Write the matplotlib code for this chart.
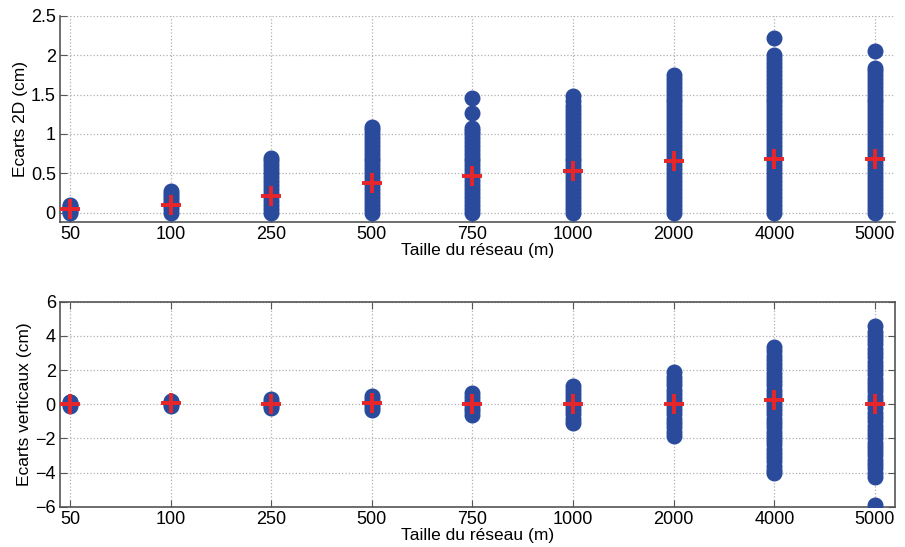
import matplotlib
matplotlib.use('Agg')
from matplotlib import pyplot as plt

plt.rcParams['font.family'] = ['Liberation Sans', 'DejaVu Sans']

sizes = ['50', '100', '250', '500', '750', '1000', '2000', '4000', '5000']

ecarts_2d = [
    [0.0, 0.02, 0.04, 0.06, 0.08, 0.1],
    [0.0, 0.04, 0.08, 0.12, 0.16, 0.2, 0.24, 0.28],
    [0.0, 0.05, 0.1, 0.15, 0.2, 0.25, 0.3, 0.35, 0.4, 0.45, 0.5, 0.55, 0.6, 0.65,
     0.7],
    [0.0, 0.05, 0.1, 0.15, 0.2, 0.25, 0.3, 0.35, 0.4, 0.45, 0.5, 0.55, 0.6, 0.65,
     0.7, 0.75, 0.8, 0.85, 0.9, 0.95, 1.0, 1.05, 1.09],
    [0.0, 0.05, 0.1, 0.15, 0.2, 0.25, 0.3, 0.35, 0.4, 0.45, 0.5, 0.55, 0.6, 0.65,
     0.7, 0.75, 0.8, 0.85, 0.9, 0.95, 1.0, 1.04, 1.08, 1.26, 1.46],
    [0.0, 0.05, 0.1, 0.15, 0.2, 0.25, 0.3, 0.35, 0.4, 0.45, 0.5, 0.55, 0.6, 0.65,
     0.7, 0.75, 0.8, 0.85, 0.9, 0.95, 1.0, 1.05, 1.1, 1.15, 1.2, 1.25, 1.3, 1.36,
     1.42, 1.48],
    [0.0, 0.05, 0.1, 0.15, 0.2, 0.25, 0.3, 0.35, 0.4, 0.45, 0.5, 0.55, 0.6, 0.65,
     0.7, 0.75, 0.8, 0.85, 0.9, 0.95, 1.0, 1.05, 1.1, 1.15, 1.2, 1.25, 1.3, 1.35,
     1.4, 1.45, 1.5, 1.55, 1.6, 1.65, 1.7, 1.75],
    [0.0, 0.05, 0.1, 0.15, 0.2, 0.25, 0.3, 0.35, 0.4, 0.45, 0.5, 0.55, 0.6, 0.65,
     0.7, 0.75, 0.8, 0.85, 0.9, 0.95, 1.0, 1.05, 1.1, 1.15, 1.2, 1.25, 1.3, 1.35,
     1.4, 1.45, 1.5, 1.55, 1.6, 1.65, 1.7, 1.75, 1.8, 1.85, 1.9, 1.95, 2.01, 2.22],
    [0.0, 0.05, 0.1, 0.15, 0.2, 0.25, 0.3, 0.35, 0.4, 0.45, 0.5, 0.55, 0.6, 0.65,
     0.7, 0.75, 0.8, 0.85, 0.9, 0.95, 1.0, 1.05, 1.1, 1.15, 1.2, 1.25, 1.3, 1.35,
     1.4, 1.45, 1.5, 1.55, 1.6, 1.65, 1.7, 1.75, 1.8, 1.84, 2.06],
]
moy_2d = [0.05, 0.10, 0.21, 0.37, 0.46, 0.53, 0.65, 0.68, 0.68]

# Ecarts verticaux (cm)
ecarts_v = [
    [-0.1, 0.0, 0.1, 0.15],
    [-0.1, 0.0, 0.1, 0.2],
    [-0.25, -0.1, 0.0, 0.15, 0.3],
    [-0.35, -0.15, 0.0, 0.15, 0.3, 0.5],
    [-0.64, -0.4, -0.2, 0.0, 0.2, 0.4, 0.64],
    [-1.09, -0.85, -0.6, -0.35, -0.1, 0.1, 0.35, 0.6, 0.85, 1.09],
    [-1.86, -1.6, -1.35, -1.1, -0.85, -0.6, -0.35, -0.1, 0.1, 0.35, 0.6, 0.85,
     1.1, 1.35, 1.6, 1.86],
    [-4.05, -3.85, -3.6, -3.35, -3.1, -2.85, -2.6, -2.35, -2.1, -1.85, -1.6, -1.35,
     -1.1, -0.85, -0.6, -0.35, -0.1, 0.1, 0.35, 0.6, 0.85, 1.1, 1.35, 1.6, 1.85,
     2.1, 2.35, 2.6, 2.85, 3.1, 3.34],
    [-5.9, -4.25, -4.0, -3.75, -3.5, -3.25, -3.0, -2.75, -2.5, -2.25, -2.0, -1.75,
     -1.5, -1.25, -1.0, -0.75, -0.5, -0.25, 0.0, 0.25, 0.5, 0.75, 1.0, 1.25, 1.5,
     1.75, 2.0, 2.25, 2.5, 2.75, 3.0, 3.25, 3.5, 3.75, 4.0, 4.25, 4.55],
]
moy_v = [0.0, 0.05, 0.0, 0.05, 0.0, 0.0, 0.0, 0.22, 0.0]

blue = '#2a4a9c'
red = '#e8262a'
edge = '#555555'

fig = plt.figure(figsize=(9.05, 5.47), dpi=100)
ax1 = fig.add_axes([0.0663, 0.5941, 0.9227, 0.3767])
ax2 = fig.add_axes([0.0663, 0.0737, 0.9227, 0.3747])


def draw(ax, values, means, ylabel):
    for i, col in enumerate(values):
        ax.plot([i + 1] * len(col), col, 'o', color=blue, ms=10.5, mec=blue, zorder=3)
    ax.plot(range(1, len(means) + 1), means, '+', color=red, ms=15, mew=2.8, zorder=4)
    ax.set_xticks(range(1, len(sizes) + 1))
    ax.set_xticklabels(sizes)
    ax.set_xlim(0.9, 9.2)
    ax.grid(True, linestyle=':', color='#b0b0b0', linewidth=0.9)
    ax.set_axisbelow(True)
    ax.set_xlabel('Taille du réseau (m)', fontsize=12.5, labelpad=0)
    ax.set_ylabel(ylabel, fontsize=12.5, labelpad=2)
    ax.tick_params(direction='in', length=5, color=edge, labelsize=13, pad=3)
    for s in ax.spines.values():
        s.set_color(edge)
        s.set_linewidth(1.2)


draw(ax1, ecarts_2d, moy_2d, 'Ecarts 2D (cm)')
ax1.set_ylim(-0.12, 2.5)
ax1.set_yticks([0, 0.5, 1, 1.5, 2, 2.5])
ax1.set_yticklabels(['0', '0.5', '1', '1.5', '2', '2.5'])
ax1.spines['top'].set_visible(False)
ax1.spines['right'].set_visible(False)

draw(ax2, ecarts_v, moy_v, 'Ecarts verticaux (cm)')
ax2.set_ylim(-6, 6)
ax2.set_yticks([-6, -4, -2, 0, 2, 4, 6])
ax2.tick_params(top=True, right=True)

fig.savefig('out.png', dpi=100)
